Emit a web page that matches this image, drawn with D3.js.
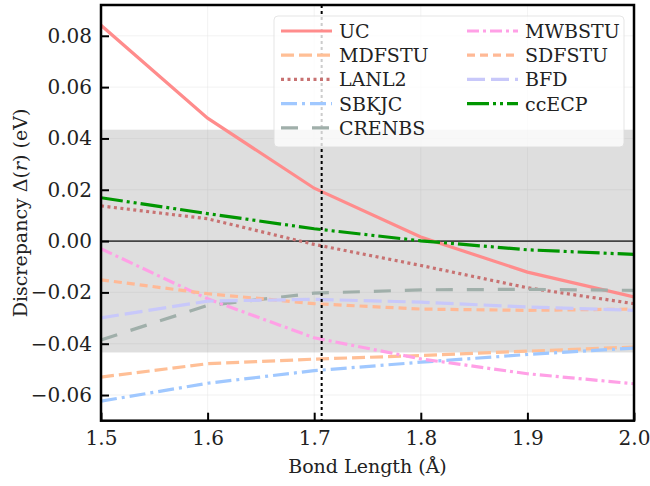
<!DOCTYPE html>
<html>
<head>
<meta charset="utf-8">
<script src="https://cdn.jsdelivr.net/npm/d3@7"></script>
<style>
  body { margin: 0; background: #fff; }
  svg text { fill: #222; }
</style>
</head>
<body>
<script>
// bond lengths (Angstrom)
var bondLengths = [1.5, 1.6, 1.7, 1.8, 1.9, 2.0];

// discrepancy values (eV), one array per basis / ECP
var uc     = [0.0841, 0.0479, 0.0206, 0.0016, -0.0121, -0.0218];
var mdfstu = [-0.0530, -0.0478, -0.0460, -0.0446, -0.0429, -0.0413];
var lanl2  = [0.0137, 0.0087, -0.0013, -0.0095, -0.0182, -0.0244];
var sbkjc  = [-0.0624, -0.0554, -0.0505, -0.0472, -0.0442, -0.0417];
var crenbs = [-0.0385, -0.0251, -0.0203, -0.0190, -0.0188, -0.0192];
var mwbstu = [-0.0030, -0.0225, -0.0377, -0.0459, -0.0517, -0.0556];
var sdfstu = [-0.0151, -0.0205, -0.0244, -0.0265, -0.0270, -0.0265];
var bfd    = [-0.0299, -0.0234, -0.0227, -0.0238, -0.0257, -0.0270];
var ccecp  = [0.0169, 0.0107, 0.0048, 0.0001, -0.0034, -0.0052];

var seriesNames = ["UC", "MDFSTU", "LANL2", "SBKJC", "CRENBS", "MWBSTU", "SDFSTU", "BFD", "ccECP"];
var xTicks = [1.5, 1.6, 1.7, 1.8, 1.9, 2.0];
var yTicks = [-0.06, -0.04, -0.02, 0.00, 0.02, 0.04, 0.06, 0.08];
var chemAcc = 0.0434;   // 1 kcal/mol
var eqBond = 1.707;

var styles = [
  {color: "#ff8c8c", dash: null},
  {color: "#ffbf96", dash: "13,5"},
  {color: "#c87272", dash: "3,3.5"},
  {color: "#a0c8ff", dash: "16,5,3,5"},
  {color: "#a0afaa", dash: "17,14"},
  {color: "#ffa0e6", dash: "12,4,3,4"},
  {color: "#ffb996", dash: "8,5"},
  {color: "#c8c8fa", dash: "18,6"},
  {color: "#009600", dash: "22,4,3,4,3,4"}
];
var allSeries = [uc, mdfstu, lanl2, sbkjc, crenbs, mwbstu, sdfstu, bfd, ccecp];

var width = 650, height = 486;
var pLeft = 101, pRight = 634, pTop = 5, pBottom = 420.7;
var serif = "'DejaVu Serif', serif";
var fs = 19, tickFs = 20;

var svg = d3.select("body").append("svg")
    .attr("width", width)
    .attr("height", height);

var x = d3.scaleLinear().domain([1.5, 2.0]).range([pLeft, pRight]);
var y = d3.scaleLinear().domain([-0.07, 0.092]).range([pBottom, pTop]);

svg.append("defs").append("clipPath").attr("id", "clip")
  .append("rect").attr("x", pLeft).attr("y", pTop).attr("width", pRight - pLeft).attr("height", pBottom - pTop);

// grid
svg.append("g").selectAll("line").data(xTicks).enter().append("line")
    .attr("x1", d => x(d)).attr("x2", d => x(d)).attr("y1", pTop).attr("y2", pBottom)
    .style("stroke", "#e6e6e6").style("stroke-width", 0.8).style("opacity", 0.6);
svg.append("g").selectAll("line").data(yTicks).enter().append("line")
    .attr("x1", pLeft).attr("x2", pRight).attr("y1", d => y(d)).attr("y2", d => y(d))
    .style("stroke", "#e6e6e6").style("stroke-width", 0.8).style("opacity", 0.6);

// chemical accuracy band
svg.append("rect")
    .attr("x", pLeft).attr("width", pRight - pLeft)
    .attr("y", y(chemAcc)).attr("height", y(-chemAcc) - y(chemAcc))
    .style("fill", "#808080").style("opacity", 0.26);

var plot = svg.append("g").attr("clip-path", "url(#clip)");

// zero line
plot.append("line")
    .attr("x1", pLeft).attr("x2", pRight).attr("y1", y(0)).attr("y2", y(0))
    .style("stroke", "#444").style("stroke-width", 1.6);

var line = d3.line()
    .x((d, i) => x(bondLengths[i]))
    .y(d => y(d));

plot.selectAll("path.series")
    .data(allSeries)
    .enter()
    .append("path")
    .attr("class", "series")
    .attr("d", line)
    .style("fill", "none")
    .style("stroke", (d, i) => styles[i].color)
    .style("stroke-width", 3.2)
    .style("stroke-dasharray", (d, i) => styles[i].dash);

// equilibrium bond length
plot.append("line")
    .attr("x1", x(eqBond)).attr("x2", x(eqBond)).attr("y1", pTop).attr("y2", pBottom)
    .style("stroke", "#000").style("stroke-width", 2).style("stroke-dasharray", "3,3");

// axes
var xAxis = d3.axisBottom(x).tickValues(xTicks).tickSizeInner(-8).tickSizeOuter(0)
    .tickPadding(10).tickFormat(d3.format(".1f"));
var gx = svg.append("g").attr("transform", "translate(0," + pBottom + ")").call(xAxis);
var yAxis = d3.axisLeft(y).tickValues(yTicks).tickSizeInner(-8).tickSizeOuter(0)
    .tickPadding(9).tickFormat(d => d3.format(".2f")(d).replace("-", "\u2212"));
var gy = svg.append("g").attr("transform", "translate(" + pLeft + ",0)").call(yAxis);

[gx, gy].forEach(function(g) {
  g.attr("font-family", serif).attr("font-size", tickFs);
  g.select(".domain").remove();
  g.selectAll(".tick line").style("stroke", "#000").style("stroke-width", 2);
  g.selectAll(".tick text").style("fill", "#222");
});

// frame
svg.append("rect")
    .attr("x", pLeft).attr("y", pTop).attr("width", pRight - pLeft).attr("height", pBottom - pTop)
    .style("fill", "none").style("stroke", "#000").style("stroke-width", 2.5);

// axis labels
svg.append("text")
    .attr("x", (pLeft + pRight) / 2).attr("y", 473)
    .attr("text-anchor", "middle")
    .attr("font-family", serif)
    .attr("font-size", fs)
    .text("Bond Length (\u00c5)");

var yl = svg.append("text")
    .attr("transform", "translate(27," + 213 + ") rotate(-90)")
    .attr("text-anchor", "middle")
    .attr("font-family", serif)
    .attr("font-size", fs);
yl.append("tspan").text("Discrepancy \u0394(");
yl.append("tspan").style("font-style", "italic").text("r");
yl.append("tspan").text(") (eV)");

// legend
var leg = svg.append("g");
leg.append("rect")
    .attr("x", 274).attr("y", 16).attr("width", 350).attr("height", 131)
    .attr("rx", 4)
    .style("fill", "#fff").style("opacity", 0.8)
    .style("stroke", "#e0e0e0").style("stroke-width", 1);

var entries = leg.selectAll("g.entry")
    .data(seriesNames)
    .enter()
    .append("g")
    .attr("class", "entry")
    .attr("transform", function(d, i) {
      var col = i < 5 ? 0 : 1, row = i < 5 ? i : i - 5;
      return "translate(" + (col === 0 ? 281 : 467) + "," + (31 + row * 24.2) + ")";
    });
entries.append("line")
    .attr("x1", 0).attr("x2", 51).attr("y1", 0).attr("y2", 0)
    .style("stroke", (d, i) => styles[i].color)
    .style("stroke-width", 3.2)
    .style("stroke-dasharray", (d, i) => styles[i].dash);
entries.append("text")
    .attr("x", 58).attr("y", 7)
    .attr("font-family", serif)
    .attr("font-size", fs)
    .text(d => d);
</script>
</body>
</html>
